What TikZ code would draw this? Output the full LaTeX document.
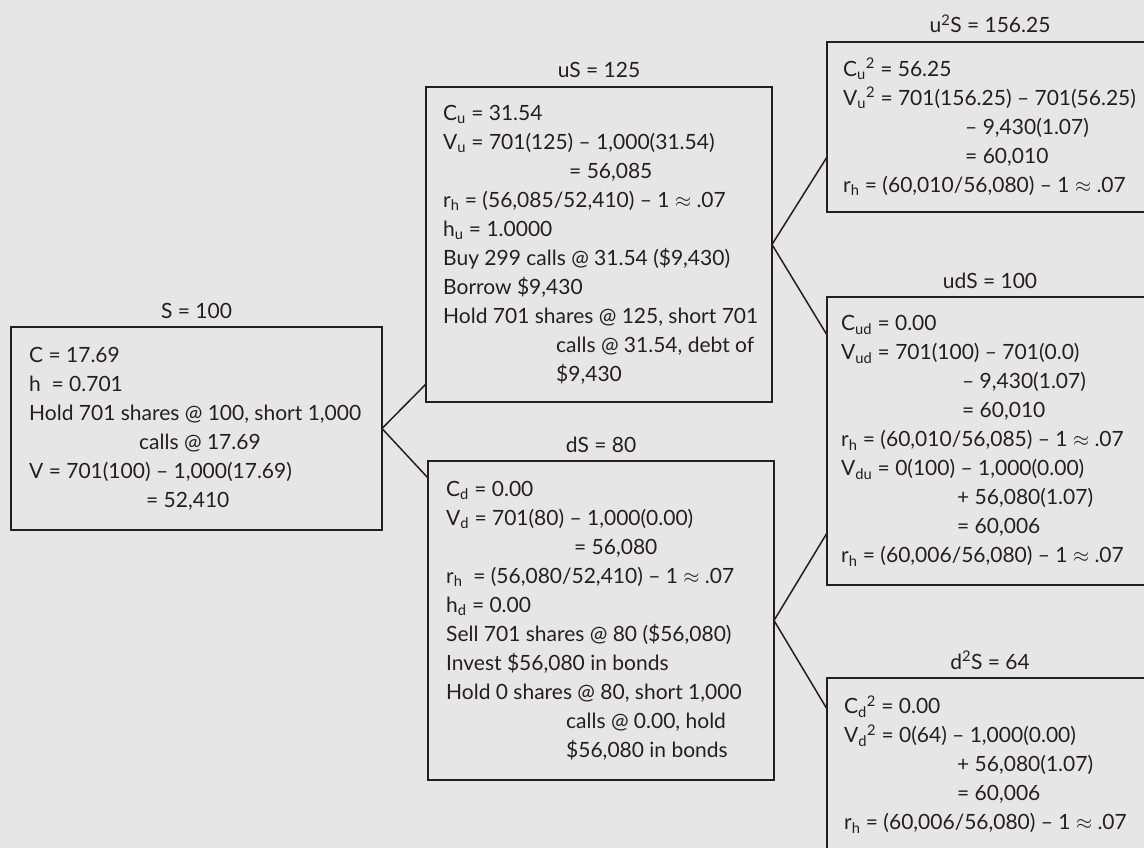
\documentclass[tikz,border=0pt]{standalone}
\usepackage{fontspec}
\setmainfont{Lato}
\usetikzlibrary{positioning}
\definecolor{ink}{HTML}{231F20}
\definecolor{paper}{HTML}{E6E6E6}

\begin{document}
\begin{tikzpicture}[x=1pt,y=1pt,
    box/.style={draw=ink,line width=1.8pt,inner sep=0pt,outer sep=0pt},
    txt/.style={inner sep=0pt,align=left,text=ink,font=\fontsize{21}{29}\selectfont},
    lbl/.style={anchor=base,inner sep=0pt,text=ink,font=\fontsize{21}{29}\selectfont},
    link/.style={draw=ink,line width=1.5pt}]
			\useasboundingbox (0,0) rectangle (1144,-848);
			\fill [paper] (0,0) rectangle (1144,-848);
			\clip (0,0) rectangle (1144,-848);
			\node [box,minimum width=371,minimum height=203] (S) at (196.5,-428.5) {};
			\node [lbl] (tS) at ([yshift=9]S.north) {S = 100};
			\node [txt,right=18pt of S.west] (xS) {C = 17.69\\
				h\ \ = 0.701\\
				Hold 701 shares @ 100, short 1,000\\
				\hspace*{110pt}calls @ 17.69\\
				V = 701(100) -- 1,000(17.69)\\
				\hspace*{117pt}= 52,410};
			\node [box,minimum width=346,minimum height=315] (uS) at (599,-244.5) {};
			\node [lbl] (tuS) at ([yshift=9]uS.north) {uS = 125};
			\node [txt,right=17pt of uS.west] (xuS) {C\textsubscript{u} = 31.54\\
				V\textsubscript{u} = 701(125) -- 1,000(31.54)\\
				\hspace*{126pt}= 56,085\\
				r\textsubscript{h} = (56,085/52,410) -- 1 $\approx$ .07\\
				h\textsubscript{u} = 1.0000\\
				Buy 299 calls @ 31.54 (\$9,430)\\
				Borrow \$9,430\\
				Hold 701 shares @ 125, short 701\\
				\hspace*{113pt}calls @ 31.54, debt of\\
				\hspace*{113pt}\$9,430};
			\node [box,minimum width=346,minimum height=319] (dS) at (601,-620.5) {};
			\node [lbl] (tdS) at ([yshift=9]dS.north) {dS = 80};
			\node [txt,right=18pt of dS.west] (xdS) {C\textsubscript{d} = 0.00\\
				V\textsubscript{d} = 701(80) -- 1,000(0.00)\\
				\hspace*{128pt}= 56,080\\
				r\textsubscript{h}\ \ = (56,080/52,410) -- 1 $\approx$ .07\\
				h\textsubscript{d} = 0.00\\
				Sell 701 shares @ 80 (\$56,080)\\
				Invest \$56,080 in bonds\\
				Hold 0 shares @ 80, short 1,000\\
				\hspace*{120pt}calls @ 0.00, hold\\
				\hspace*{120pt}\$56,080 in bonds};
			\node [box,minimum width=326,minimum height=170] (uuS) at (990,-127) {};
			\node [lbl] (tuuS) at ([yshift=9]uuS.north) {u\textsuperscript{2}S = 156.25};
			\node [txt,right=16pt of uuS.west] (xuuS) {C\textsubscript{u}\textsuperscript{2} = 56.25\\
				V\textsubscript{u}\textsuperscript{2} = 701(156.25) -- 701(56.25)\\
				\hspace*{122pt}-- 9,430(1.07)\\
				\hspace*{122pt}= 60,010\\
				r\textsubscript{h} = (60,010/56,080) -- 1 $\approx$ .07};
			\node [box,minimum width=326,minimum height=288] (udS) at (990,-441) {};
			\node [lbl] (tudS) at ([yshift=9]udS.north) {udS = 100};
			\node [txt,right=14pt of udS.west] (xudS) {C\textsubscript{ud} = 0.00\\
				V\textsubscript{ud} = 701(100) -- 701(0.0)\\
				\hspace*{121pt}-- 9,430(1.07)\\
				\hspace*{121pt}= 60,010\\
				r\textsubscript{h} = (60,010/56,085) -- 1 $\approx$ .07\\
				V\textsubscript{du} = 0(100) -- 1,000(0.00)\\
				\hspace*{116pt}+ 56,080(1.07)\\
				\hspace*{116pt}= 60,006\\
				r\textsubscript{h} = (60,006/56,080) -- 1 $\approx$ .07};
			\node [box,minimum width=326,minimum height=173] (ddS) at (990,-764.5) {};
			\node [lbl] (tddS) at ([yshift=9]ddS.north) {d\textsuperscript{2}S = 64};
			\node [txt,right=17pt of ddS.west] (xddS) {C\textsubscript{d}\textsuperscript{2} = 0.00\\
				V\textsubscript{d}\textsuperscript{2} = 0(64) -- 1,000(0.00)\\
				\hspace*{113pt}+ 56,080(1.07)\\
				\hspace*{113pt}= 60,006\\
				r\textsubscript{h} = (60,006/56,080) -- 1 $\approx$ .07};
			\draw [link] (S.east) -- ([yshift=18]uS.south west);
			\draw [link] (S.east) -- ([yshift=-17]dS.north west);
			\draw [link] (uS.east) -- ([yshift=55]uuS.south west);
			\draw [link] (uS.east) -- ([yshift=-38]udS.north west);
			\draw [link] (dS.east) -- ([yshift=52]udS.south west);
			\draw [link] (dS.east) -- ([yshift=-31]ddS.north west);
		\end{tikzpicture}
\end{document}
